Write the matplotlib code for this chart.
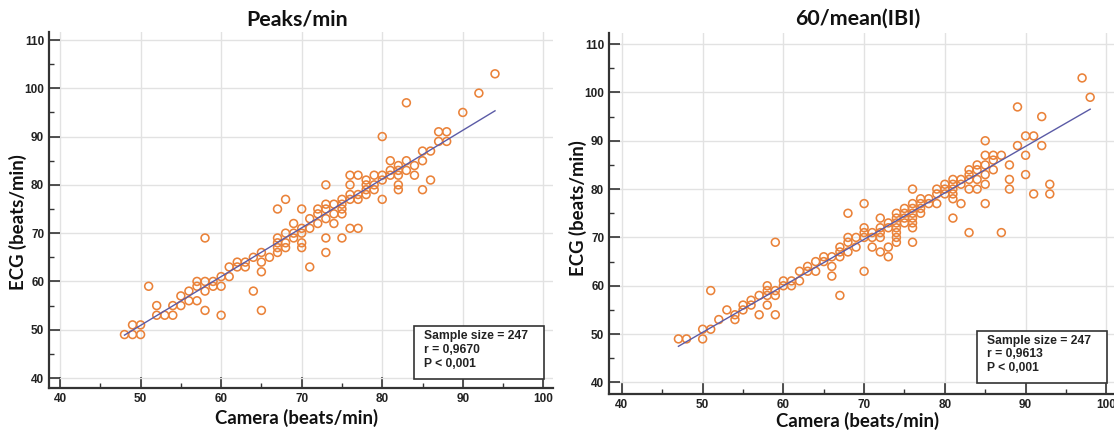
import numpy as np
import matplotlib.pyplot as plt
from matplotlib.patches import Rectangle
from matplotlib.ticker import MultipleLocator

# Peaks/min panel: camera vs ECG (visible distinct points)
cam_peaks = [48, 49, 49, 50, 50, 51, 52, 52, 53, 54, 54, 55, 55, 56, 56, 57, 57, 57,
             58, 58, 58, 58, 59, 59, 60, 60, 60, 61, 61, 62, 62, 63, 63, 64, 64,
             65, 65, 65, 65, 66, 67, 67, 67, 67, 67, 68, 68, 68, 68, 69, 69, 69,
             70, 70, 70, 70, 70, 71, 71, 71, 72, 72, 72, 73, 73, 73, 73, 73, 73,
             74, 74, 74, 75, 75, 75, 75, 75, 76, 76, 76, 76, 76, 77, 77, 77, 77,
             78, 78, 78, 78, 79, 79, 79, 80, 80, 80, 80, 81, 81, 81, 82, 82, 82,
             82, 82, 83, 83, 83, 84, 84, 85, 85, 85, 86, 86, 87, 87, 88, 88, 90,
             92, 94]
ecg_peaks = [49, 51, 49, 51, 49, 59, 55, 53, 53, 55, 53, 57, 55, 58, 56, 60, 59, 56,
             69, 60, 58, 54, 60, 59, 61, 59, 53, 63, 61, 64, 63, 64, 63, 65, 58,
             66, 64, 62, 54, 65, 75, 69, 68, 67, 66, 77, 70, 68, 67, 72, 70, 69,
             75, 71, 70, 68, 67, 73, 71, 63, 75, 74, 72, 80, 76, 75, 73, 69, 66,
             76, 74, 72, 77, 76, 75, 74, 69, 82, 80, 78, 77, 71, 82, 78, 77, 71,
             81, 80, 79, 78, 82, 80, 79, 90, 82, 81, 77, 85, 83, 82, 84, 83, 82,
             80, 79, 97, 85, 83, 84, 82, 87, 85, 79, 87, 81, 91, 89, 91, 89, 95,
             99, 103]

# 60/mean(IBI) panel
cam_ibi = [47, 48, 50, 50, 51, 51, 52, 53, 54, 54, 55, 55, 56, 56, 57, 57, 58, 58,
           58, 58, 59, 59, 59, 59, 60, 60, 61, 61, 62, 62, 63, 63, 64, 64, 65, 65,
           66, 66, 66, 67, 67, 67, 67, 68, 68, 68, 68, 69, 69, 70, 70, 70, 70, 70,
           71, 71, 71, 72, 72, 72, 72, 72, 73, 73, 73, 73, 74, 74, 74, 74, 74, 74,
           74, 75, 75, 75, 75, 76, 76, 76, 76, 76, 76, 76, 76, 77, 77, 77, 77, 78,
           78, 79, 79, 79, 80, 80, 80, 81, 81, 81, 81, 81, 81, 82, 82, 82, 83, 83,
           83, 83, 83, 84, 84, 84, 84, 85, 85, 85, 85, 85, 85, 86, 86, 86, 87, 87,
           88, 88, 88, 89, 89, 90, 90, 90, 91, 91, 92, 92, 93, 93, 97, 98]
ecg_ibi = [49, 49, 51, 49, 59, 51, 53, 55, 54, 53, 56, 55, 57, 56, 58, 54, 60, 59,
           58, 56, 69, 59, 58, 54, 61, 60, 61, 60, 63, 61, 64, 63, 65, 63, 66, 65,
           66, 64, 62, 68, 67, 66, 58, 75, 70, 69, 67, 70, 68, 77, 72, 71, 70, 63,
           71, 70, 68, 74, 72, 71, 70, 67, 73, 72, 68, 66, 75, 74, 73, 72, 71, 70,
           69, 76, 75, 74, 73, 80, 77, 76, 75, 74, 73, 72, 69, 78, 77, 76, 75, 78,
           77, 80, 79, 77, 81, 80, 79, 82, 81, 80, 79, 78, 74, 82, 81, 77, 84, 83,
           82, 80, 71, 85, 84, 82, 80, 90, 87, 85, 83, 81, 77, 87, 86, 84, 87, 71,
           85, 82, 80, 97, 89, 91, 87, 83, 91, 79, 95, 89, 81, 79, 103, 99]

# regression lines (slope, intercept)
fit_peaks = (1.01, 0.4)
fit_ibi = (0.962, 2.26)

titles = ['Peaks/min', '60/mean(IBI)']
stats = ['Sample size = 247\nr = 0,9670\nP < 0,001',
         'Sample size = 247\nr = 0,9613\nP < 0,001']

W, H = 1114, 432
fig = plt.figure(figsize=(W / 100, H / 100), dpi=100)

orange = '#EA8239'
line_col = '#5B5BA6'
dark = '#333333'
head = ['Lato', 'DejaVu Sans']
tickfont = ['Liberation Sans', 'DejaVu Sans']


def px(x, y):
    return x / W, 1 - y / H


panels = [
    # axes box in pixels (left, top, right, bottom), xlim, ylim, data, fit, label spots
    dict(box=(49, 32, 553, 388), xlim=(38.63, 101.2), ylim=(37.93, 111.66),
         x=cam_peaks, y=ecg_peaks, fit=fit_peaks, title=(297, 19),
         xlab=(297, 418), ylab=(18, 222)),
    dict(box=(609, 33, 1116, 394.3), xlim=(38.4, 101.2), ylim=(37.54, 112.3),
         x=cam_ibi, y=ecg_ibi, fit=fit_ibi, title=(858, 19),
         xlab=(858, 421), ylab=(578, 208)),
]

for i, p in enumerate(panels):
    l, t, r, b = p['box']
    ax = fig.add_axes([l / W, 1 - b / H, (r - l) / W, (b - t) / H])
    ax.set_xlim(*p['xlim'])
    ax.set_ylim(*p['ylim'])

    ax.xaxis.set_major_locator(MultipleLocator(10))
    ax.xaxis.set_minor_locator(MultipleLocator(5))
    ax.yaxis.set_major_locator(MultipleLocator(10))
    ax.yaxis.set_minor_locator(MultipleLocator(5))
    ax.set_xticks(np.arange(40, 101, 10))
    ax.set_yticks(np.arange(40, 111, 10))
    ax.grid(True, which='major', color='#E2E2E2', lw=1.0)
    ax.set_axisbelow(True)

    for s in ['top', 'right']:
        ax.spines[s].set_visible(False)
    for s in ['left', 'bottom']:
        ax.spines[s].set_color(dark)
        ax.spines[s].set_linewidth(1.6)
    ax.tick_params(which='major', direction='in', length=8, width=1.2, color=dark, pad=3.5)
    ax.tick_params(which='minor', direction='in', length=3.8, width=1.0, color=dark)
    for lab in ax.get_xticklabels() + ax.get_yticklabels():
        lab.set_fontfamily(tickfont)
        lab.set_fontweight('bold')
        lab.set_fontsize(8.5)
        lab.set_color('#222222')

    xs = np.array(p['x'])
    ys = np.array(p['y'])
    ax.scatter(xs, ys, s=32, facecolors='none', edgecolors=orange, linewidths=1.15, zorder=3)

    slope, icpt = p['fit']
    xx = np.array([xs.min(), xs.max()])
    ax.plot(xx, slope * xx + icpt, color=line_col, lw=1.0, zorder=4)

    # stats box in the lower right corner
    ax.add_patch(Rectangle((84.0, 39.8), 16.1, 10.9, fc='white', ec=dark, lw=1.2, zorder=5))
    ax.text(85.2, 49.9, stats[i], fontfamily=tickfont, fontweight='bold', fontsize=8.7,
            color='#222222', va='top', ha='left', linespacing=1.2, zorder=6)

    fig.text(*px(*p['title']), titles[i], fontfamily=head, fontweight='bold',
             fontsize=15.4, ha='center', va='center', color='#111111')
    fig.text(*px(*p['xlab']), 'Camera (beats/min)', fontfamily=head, fontweight='bold',
             fontsize=13.4, ha='center', va='center', color='#111111')
    fig.text(*px(*p['ylab']), 'ECG (beats/min)', fontfamily=head, fontweight='bold',
             fontsize=13.4, ha='center', va='center', rotation=90, color='#111111')

fig.savefig('out.png', dpi=100, facecolor='white')
